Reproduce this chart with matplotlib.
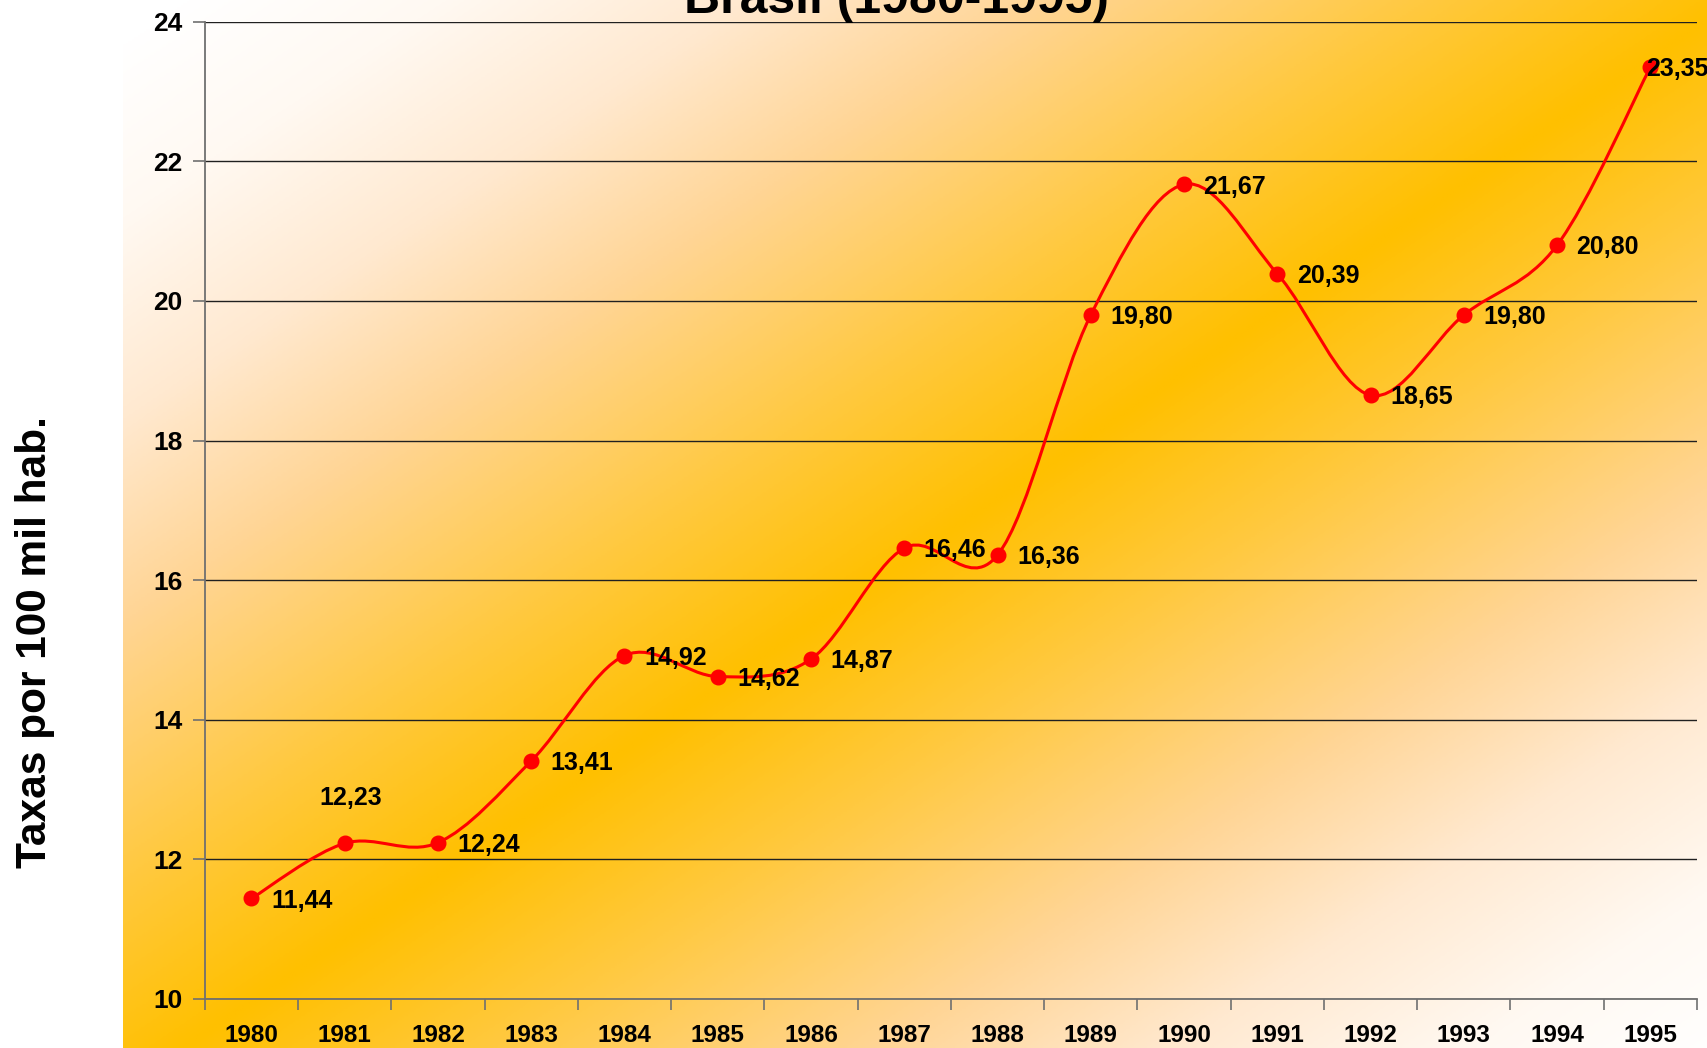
"""Taxas por 100 mil hab. - Brasil (1980-1995)"""

import numpy as np
import matplotlib
matplotlib.use('Agg')
import matplotlib.pyplot as plt
from matplotlib.path import Path
from matplotlib.patches import PathPatch
from matplotlib.colors import LinearSegmentedColormap

plt.rcParams['font.family'] = ['Liberation Sans', 'DejaVu Sans']
plt.rcParams['font.weight'] = 'bold'

# dados
anos = ['1980', '1981', '1982', '1983', '1984', '1985', '1986', '1987',
        '1988', '1989', '1990', '1991', '1992', '1993', '1994', '1995']
taxas = [11.44, 12.23, 12.24, 13.41, 14.92, 14.62, 14.87, 16.46,
         16.36, 19.80, 21.67, 20.39, 18.65, 19.80, 20.80, 23.35]
rotulos = ['11,44', '12,23', '12,24', '13,41', '14,92', '14,62', '14,87', '16,46',
           '16,36', '19,80', '21,67', '20,39', '18,65', '19,80', '20,80', '23,35']
titulo = 'Brasil (1980-1995)'
eixo_y = 'Taxas por 100 mil hab.'
y_ticks = [10, 12, 14, 16, 18, 20, 22, 24]

W, H = 1708, 1048
fig = plt.figure(figsize=(W / 100, H / 100), dpi=100)

# fundo em degrade (dourado na diagonal, branco nos cantos)
x0 = 123
bg = fig.add_axes([x0 / W, 0, 1 - x0 / W, 1], zorder=0)
px = np.linspace(x0, W, 800)
py = np.linspace(0, H, 530)
pp, qq = np.meshgrid(px, py)
d = np.clip(np.abs((pp - 184) / 1553 - (H - qq) / H), 0, 1)
cmap = LinearSegmentedColormap.from_list('deg', [
    (0.0, '#FFC000'), (0.2, '#FFC940'), (0.447, '#FFD595'),
    (0.64, '#FFE9D0'), (0.833, '#FFF9F2'), (1.0, '#FFFFFF')])
bg.imshow(d, cmap=cmap, vmin=0, vmax=1, aspect='auto', extent=[0, 1, 0, 1],
          interpolation='bilinear')
bg.axis('off')

# area do grafico
ax = fig.add_axes([204.8 / W, 1 - 999 / H, (1697 - 204.8) / W, (999 - 21.8) / H], zorder=1)
ax.set_facecolor('none')

x = np.arange(len(anos))
y = np.array(taxas)

# linha suavizada (bezier tipo Catmull-Rom)
pts = np.column_stack([x, y]).astype(float)
ext = np.vstack([pts[0], pts, pts[-1]])
verts = [tuple(pts[0])]
codes = [Path.MOVETO]
for i in range(len(pts) - 1):
    p0, p1, p2, p3 = ext[i], ext[i + 1], ext[i + 2], ext[i + 3]
    c1 = p1 + (p2 - p0) / 6
    c2 = p2 - (p3 - p1) / 6
    verts += [tuple(c1), tuple(c2), tuple(p2)]
    codes += [Path.CURVE4] * 3
ax.add_patch(PathPatch(Path(verts, codes), fill=False, edgecolor='#FF0000',
                       lw=2.2, zorder=3, capstyle='round', joinstyle='round'))
ax.plot(x, y, ls='none', marker='o', ms=10.5, color='#FF0000', zorder=4, clip_on=False)

# rotulos de dados
for i, (xi, yi) in enumerate(zip(x, y)):
    if i == 1:
        ax.annotate(rotulos[i], (xi, yi), xytext=(4, 33), textcoords='offset points',
                    ha='center', va='center', fontsize=18, fontweight='bold', zorder=5)
    elif i == len(x) - 1:
        ax.annotate(rotulos[i], (xi, yi), xytext=(-3, -1), textcoords='offset points',
                    ha='left', va='center', fontsize=18, fontweight='bold', zorder=5,
                    annotation_clip=False)
    else:
        ax.annotate(rotulos[i], (xi, yi), xytext=(14, -1.5), textcoords='offset points',
                    ha='left', va='center', fontsize=18, fontweight='bold', zorder=5)

ax.set_xlim(-0.5, len(anos) - 0.5)
ax.set_ylim(10, 24)
ax.set_yticks(y_ticks)
ax.set_yticklabels([str(t) for t in y_ticks], fontsize=19, fontweight='bold')
ax.set_xticks(x)
ax.set_xticklabels(anos, fontsize=17.5, fontweight='bold')
ax.set_xticks(np.arange(-0.5, len(anos)), minor=True)
ax.tick_params(axis='x', which='major', length=0, pad=18)
ax.tick_params(axis='x', which='minor', length=8, width=1.2, color='#707070', direction='out')
ax.tick_params(axis='y', length=9, width=1.2, color='#707070', direction='out', pad=7)

ax.grid(axis='y', color='#202020', lw=1)
ax.set_axisbelow(True)
for s in ['top', 'right']:
    ax.spines[s].set_visible(False)
for s in ['left', 'bottom']:
    ax.spines[s].set_color('#707070')
    ax.spines[s].set_linewidth(1.3)

# titulo (cortado no topo) e eixo y
fig.text(0.525, 1 - 13 / H, titulo, ha='center', va='baseline',
         fontsize=36, fontweight='bold', zorder=6)
fig.text(35 / W, 0.387, eixo_y, rotation=90, ha='center', va='center',
         fontsize=30.5, fontweight='bold', zorder=6)

fig.savefig('out.png', dpi=100)
